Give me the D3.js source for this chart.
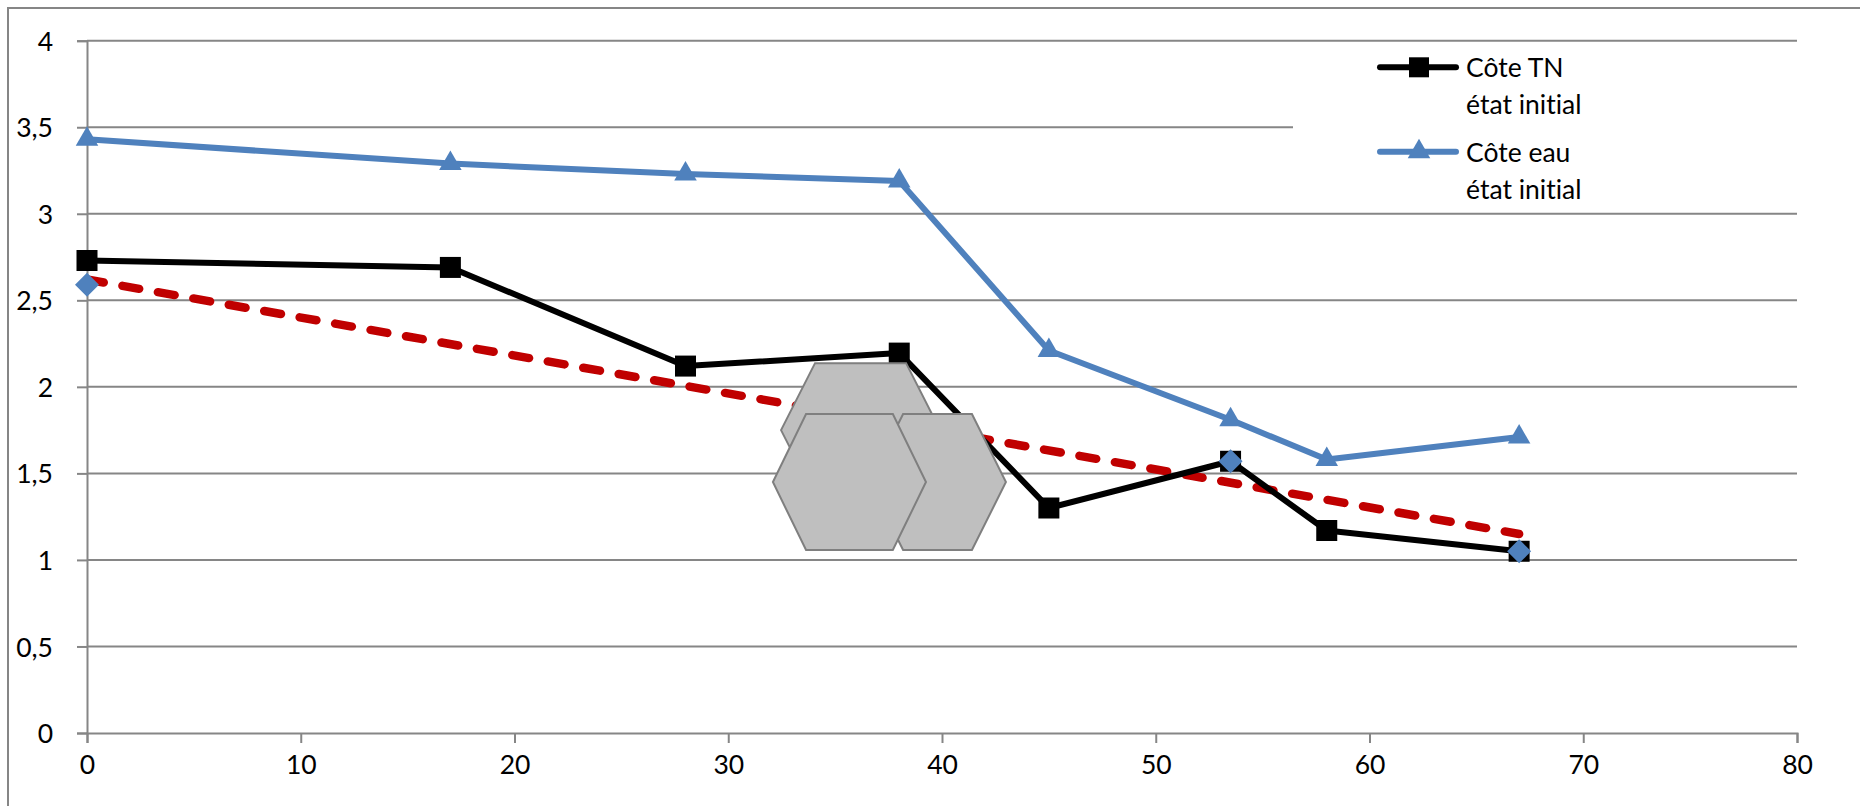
<!DOCTYPE html>
<html>
<head>
<meta charset="utf-8">
<script src="https://cdn.jsdelivr.net/npm/d3@7"></script>
<style>
  body { margin: 0; background: #fff; }
  text { font-family: Lato, "Open Sans", sans-serif; fill: #000; font-variant-ligatures: none; }
</style>
</head>
<body>
<script>
var width = 1860,
    height = 806;

// distances (m) and levels
var distances = [0, 17, 28, 38, 45, 53.5, 58, 67];
var coteTN = [2.73, 2.69, 2.12, 2.195, 1.30, 1.57, 1.17, 1.05];
var coteEau = [3.43, 3.29, 3.23, 3.19, 2.21, 1.81, 1.58, 1.71];
var projetX = [0, 67];
var projetY = [2.62, 1.15];
var ouvrageX = [0, 53.5, 67];
var ouvrageY = [2.59, 1.57, 1.05];

var xTicks = [0, 10, 20, 30, 40, 50, 60, 70, 80];
var yTicks = [0, 0.5, 1, 1.5, 2, 2.5, 3, 3.5, 4];
var legendNames = [["Côte TN", "état initial"], ["Côte eau", "état initial"]];

// blocks drawn over the profile (centre, half width, half top edge, half height)
var blocks = [
  {cx: 36.19, cy: 1.75, rx: 3.72, tx: 2.13, ry: 0.387},
  {cx: 39.79, cy: 1.45, rx: 3.20, tx: 1.61, ry: 0.393},
  {cx: 35.67, cy: 1.45, rx: 3.58, tx: 2.03, ry: 0.393}
];

var grey = "#868686";

var svg = d3.select("body").append("svg")
    .attr("width", width)
    .attr("height", height);

var x = d3.scaleLinear().domain([0, 80]).range([87, 1797]);
var y = d3.scaleLinear().domain([0, 4]).range([733, 40.7]);

// chart frame
svg.append("path")
    .attr("d", "M8," + height + "V8H" + width)
    .attr("fill", "none")
    .attr("stroke", grey)
    .attr("stroke-width", 2);

// gridlines
svg.append("g").selectAll("line")
    .data(yTicks.filter(function(d) { return d > 0; }))
  .enter().append("line")
    .attr("x1", x(0))
    .attr("x2", x(80))
    .attr("y1", function(d) { return y(d); })
    .attr("y2", function(d) { return y(d); })
    .attr("stroke", grey)
    .attr("stroke-width", 2);

// axes
var yAxis = d3.axisLeft(y).tickValues(yTicks).tickSize(10).tickPadding(24)
    .tickFormat(function(d) { return String(d).replace(".", ","); });
var xAxis = d3.axisBottom(x).tickValues(xTicks).tickSize(10).tickPadding(12);

var gy = svg.append("g").attr("transform", "translate(" + x(0) + ",0)").call(yAxis);
var gx = svg.append("g").attr("transform", "translate(0," + y(0) + ")").call(xAxis);

[gx, gy].forEach(function(g) {
  g.select(".domain").attr("stroke", grey).attr("stroke-width", 2);
  g.selectAll(".tick line").attr("stroke", grey).attr("stroke-width", 2);
  g.selectAll(".tick text").attr("font-size", 26.5).attr("fill", "#000")
      .style("font-family", "Lato, 'Open Sans', sans-serif");
});
gy.selectAll(".tick text").attr("dy", "0.36em");

var line = d3.line()
    .x(function(d) { return x(d[0]); })
    .y(function(d) { return y(d[1]); });

// red dashed project line
svg.append("path")
    .datum(d3.zip(projetX, projetY))
    .attr("d", line)
    .attr("fill", "none")
    .attr("stroke", "#C00000")
    .attr("stroke-width", 8.5)
    .attr("stroke-linecap", "round")
    .attr("stroke-dasharray", "17,19");

// black line + squares
var tn = d3.zip(distances, coteTN);
svg.append("path")
    .datum(tn)
    .attr("d", line)
    .attr("fill", "none")
    .attr("stroke", "#000")
    .attr("stroke-width", 6)
    .attr("stroke-linejoin", "round");

svg.append("g").selectAll("rect")
    .data(tn)
  .enter().append("rect")
    .attr("x", function(d) { return x(d[0]) - 10.5; })
    .attr("y", function(d) { return y(d[1]) - 10.5; })
    .attr("width", 21)
    .attr("height", 21)
    .attr("fill", "#000");

// blue line + triangles
var eau = d3.zip(distances, coteEau);
svg.append("path")
    .datum(eau)
    .attr("d", line)
    .attr("fill", "none")
    .attr("stroke", "#4F81BD")
    .attr("stroke-width", 6)
    .attr("stroke-linejoin", "round");

var tri = d3.symbol().type(d3.symbolTriangle).size(220);
svg.append("g").selectAll("path")
    .data(eau)
  .enter().append("path")
    .attr("d", tri)
    .attr("transform", function(d) { return "translate(" + x(d[0]) + "," + y(d[1]) + ")"; })
    .attr("fill", "#4F81BD");

// blue diamonds
svg.append("g").selectAll("path")
    .data(d3.zip(ouvrageX, ouvrageY))
  .enter().append("path")
    .attr("d", "M0,-12L12,0L0,12L-12,0Z")
    .attr("transform", function(d) { return "translate(" + x(d[0]) + "," + y(d[1]) + ")"; })
    .attr("fill", "#4F81BD");

// hexagonal blocks
svg.append("g").selectAll("path")
    .data(blocks)
  .enter().append("path")
    .attr("d", function(b) {
      var pts = [
        [b.cx - b.rx, b.cy], [b.cx - b.tx, b.cy + b.ry], [b.cx + b.tx, b.cy + b.ry],
        [b.cx + b.rx, b.cy], [b.cx + b.tx, b.cy - b.ry], [b.cx - b.tx, b.cy - b.ry]
      ];
      return line(pts) + "Z";
    })
    .attr("fill", "#BFBFBF")
    .attr("stroke", "#7F7F7F")
    .attr("stroke-width", 2);

// legend
svg.append("rect")
    .attr("x", 1293)
    .attr("y", 110)
    .attr("width", 520)
    .attr("height", 40)
    .attr("fill", "#fff");

var legendColors = ["#000", "#4F81BD"];
var legendY = [67.3, 151.7];
legendNames.forEach(function(name, i) {
  var g = svg.append("g").attr("transform", "translate(0," + legendY[i] + ")");
  g.append("line")
      .attr("x1", 1380).attr("x2", 1456)
      .attr("stroke", legendColors[i])
      .attr("stroke-width", 6)
      .attr("stroke-linecap", "round");
  if (i === 0) {
    g.append("rect").attr("x", 1409).attr("y", -10).attr("width", 20).attr("height", 20).attr("fill", "#000");
  } else {
    g.append("path").attr("d", tri).attr("transform", "translate(1419,0)").attr("fill", legendColors[i]);
  }
  var t = g.append("text").attr("x", 1466).attr("font-size", 26.5);
  t.append("tspan").attr("x", 1466).attr("y", 10).text(name[0]);
  t.append("tspan").attr("x", 1466).attr("y", 47).text(name[1]);
});
</script>
</body>
</html>
